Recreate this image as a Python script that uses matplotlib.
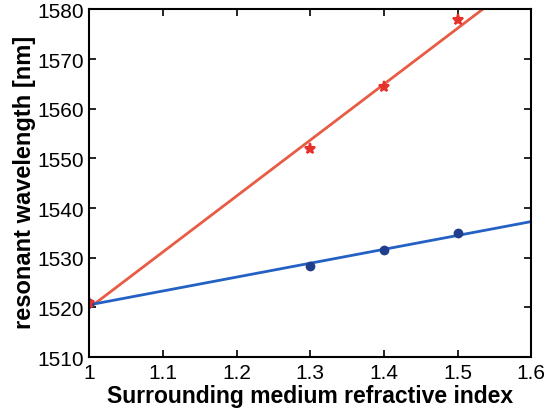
import numpy as np
import matplotlib
matplotlib.use('Agg')
import matplotlib.pyplot as plt

plt.rcParams['font.family'] = ['Liberation Sans', 'DejaVu Sans']

# measured resonance positions
n_red = [1.0, 1.3, 1.4, 1.5]
wl_red = [1520.8, 1551.8, 1564.3, 1577.8]
n_blue = [1.0, 1.3, 1.4, 1.5]
wl_blue = [1520.8, 1528.3, 1531.5, 1535.0]

red = '#e85c45'
blue = '#2461c4'

fig = plt.figure(figsize=(5.55, 4.14), dpi=100)
ax = fig.add_axes([0.161, 0.135, 0.796, 0.84])

# linear fits over the full index range
xfit = np.linspace(1.0, 1.6, 50)
pr = np.polyfit(n_red, wl_red, 1)
pb = np.polyfit(n_blue, wl_blue, 1)
ax.plot(xfit, np.polyval(pr, xfit), color=red, lw=2)
ax.plot(xfit, np.polyval(pb, xfit), color=blue, lw=2)

ax.plot(n_blue, wl_blue, 'o', color='#1f3f8c', ms=6)
ax.plot(n_red, wl_red, '*', color='#e8302a', ms=8, mew=1.5)

ax.set_xlim(1, 1.6)
ax.set_ylim(1510, 1580)
ax.set_xticks([1, 1.1, 1.2, 1.3, 1.4, 1.5, 1.6])
ax.set_xticklabels(['1', '1.1', '1.2', '1.3', '1.4', '1.5', '1.6'])
ax.set_yticks(np.arange(1510, 1581, 10))
ax.tick_params(direction='in', top=True, right=True, labelsize=15, length=5, width=1.2, pad=4)
for s in ax.spines.values():
    s.set_linewidth(1.5)

ax.set_xlabel('Surrounding medium refractive index', fontsize=16.5, fontweight='bold', labelpad=2)
ax.set_ylabel('resonant wavelength [nm]', fontsize=17, fontweight='bold')
ax.yaxis.set_label_coords(-0.12, 0.505)

fig.savefig('out.png', dpi=100)
